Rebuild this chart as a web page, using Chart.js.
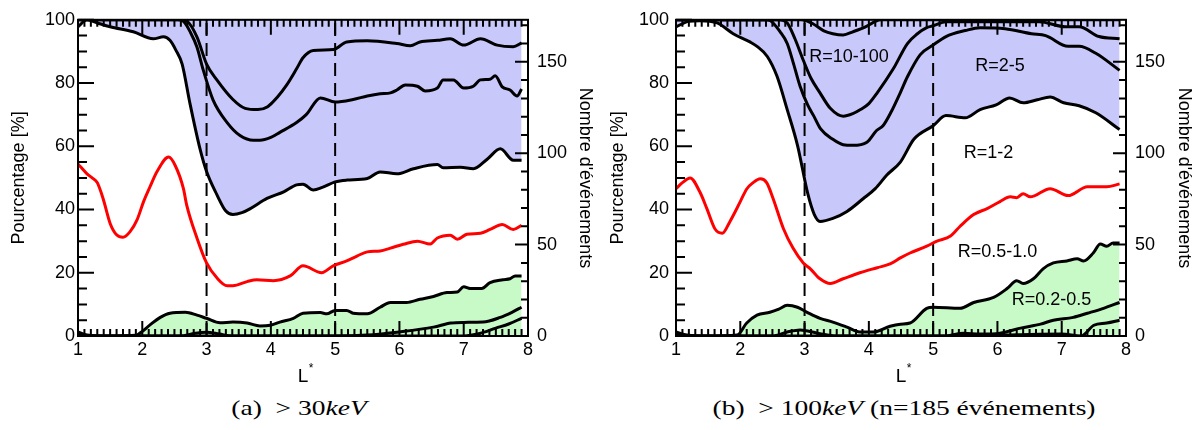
<!DOCTYPE html>
<html>
<head>
<meta charset="utf-8">
<script src="https://cdn.jsdelivr.net/npm/chart.js@4.4.1/dist/chart.umd.min.js"></script>
<style>
  body { margin: 0; background: #fff; width: 1195px; height: 430px; position: relative; overflow: hidden; }
  canvas { position: absolute; top: 0; }
  #chartA { left: 0; }
  #chartB { left: 600px; }
  .caption {
    position: absolute; top: 395px;
    font-family: "Liberation Serif", "DejaVu Serif", serif; font-size: 22px;
    white-space: nowrap; transform: translateX(-50%) scaleX(1.25);
  }
</style>
</head>
<body>
<canvas id="chartA" width="600" height="395"></canvas>
<canvas id="chartB" width="595" height="395"></canvas>
<div class="caption" style="left:299px">(a)&nbsp;&nbsp;&gt; 30<i>keV</i></div>
<div class="caption" style="left:904px">(b)&nbsp;&nbsp;&gt; 100<i>keV</i> (n=185 événements)</div>
<script>
// axes
const lRange = [1, 8];
const pctMax = 100;
const countMax = 173;          // right axis: number of events
const dashedAt = [3, 5];

// ---- panel (a) > 30 keV : [L*, %] ----
const aTop = [[1,100],[2.6,100],[2.7,99.5],[2.85,94.6],[3.0,86],[3.16,81],[3.41,74.8],[3.6,72],[3.8,71.6],[3.95,72.5],[4.1,75.5],[4.25,79.5],[4.4,84.5],[4.5,88],[4.66,90.3],[4.97,90.6],[5.18,93],[5.5,93.4],[5.96,92.5],[6.17,91.8],[6.32,93],[6.59,93.5],[6.79,94],[7.0,92],[7.26,94],[7.52,92],[7.77,91.5],[7.9,92.7]];
const aMid = [[1,100],[2.55,100],[2.64,99.5],[2.75,96],[2.85,91.4],[2.95,84],[3.1,74.7],[3.32,67.5],[3.52,63.4],[3.73,61.9],[3.83,61.9],[4.0,62.8],[4.14,64.4],[4.4,67.5],[4.55,70],[4.77,75.3],[5.0,74],[5.28,74.8],[5.5,75.9],[5.7,76.6],[5.86,76.9],[5.96,77.8],[6.09,79.4],[6.28,79],[6.4,77.5],[6.59,78.4],[6.68,81],[6.84,81],[7.0,78.4],[7.15,79],[7.26,81],[7.41,81.2],[7.49,82.3],[7.6,78.8],[7.72,77.8],[7.83,75.9],[7.9,78.1]];
const aLow = [[1,97.8],[1.14,100],[1.3,99],[1.5,97.8],[1.86,96.2],[2.17,94],[2.33,94.6],[2.43,93.5],[2.52,90.5],[2.62,86],[2.74,73.7],[2.9,59],[3.0,52],[3.16,44.7],[3.3,39.5],[3.41,38.4],[3.55,39],[3.68,40.3],[3.94,43.5],[4.2,45.6],[4.4,47.8],[4.5,48],[4.66,46.2],[4.8,47],[5.0,48.75],[5.18,49.3],[5.5,49.8],[5.7,51.9],[5.96,51.3],[6.22,52.9],[6.59,54.2],[6.68,53.2],[6.95,53.4],[7.15,52.9],[7.37,56],[7.57,59.2],[7.77,55.6],[7.9,55.6]];
const aRed = [[1,54.4],[1.14,51.3],[1.22,50],[1.3,48.5],[1.39,43.5],[1.5,35.6],[1.6,32],[1.7,31.2],[1.81,33],[1.92,36.8],[2.02,42.5],[2.12,47.2],[2.23,52],[2.41,56.6],[2.51,54],[2.64,46.6],[2.69,41.5],[2.85,31],[3.0,23.1],[3.16,18.4],[3.32,15.9],[3.41,15.9],[3.63,17.2],[3.78,17.8],[4.04,17.5],[4.3,19],[4.5,22.2],[4.79,20],[4.97,22.2],[5.18,23.75],[5.34,25.3],[5.5,26.6],[5.7,26.9],[5.86,27.8],[6.06,29],[6.28,30],[6.48,29.1],[6.59,31],[6.79,31.9],[6.9,30.6],[7.05,32.2],[7.26,32.5],[7.41,33.7],[7.6,35.3],[7.77,33.7],[7.9,35]];
const aGreen = [[1,1.3],[1.14,0.3],[1.5,0],[1.9,0.2],[1.97,1],[2.12,3.5],[2.28,5.9],[2.43,7.2],[2.67,7.5],[2.85,6.6],[3.0,5.6],[3.21,4.2],[3.41,4.4],[3.63,4.1],[3.83,3.2],[3.99,3.4],[4.14,4.4],[4.35,5.6],[4.5,7.2],[4.77,7.4],[4.87,7],[5.0,8.1],[5.18,8.1],[5.28,7.2],[5.5,7],[5.7,9.1],[5.86,10.6],[6.11,10.6],[6.32,11.6],[6.53,12.5],[6.74,13.75],[6.9,13.9],[7.0,15.6],[7.1,15],[7.28,15],[7.41,16.9],[7.61,17.8],[7.72,18.1],[7.8,19],[7.9,19]];
const aLow2 = [[1,0.8],[1.1,0],[2.6,0],[2.8,0.8],[3.0,1.2],[3.2,0.6],[3.4,0],[5.0,0],[5.5,0.3],[6.0,1.3],[6.53,2.8],[6.8,4.1],[7.0,4.3],[7.3,4.4],[7.57,5.9],[7.75,7.5],[7.9,9.1]];
const aLow3 = [[1,0],[7.0,0],[7.25,0.8],[7.5,2.5],[7.7,3.8],[7.9,5.6]];

// ---- panel (b) > 100 keV ----
const bTop = [[1,100],[2.95,100],[3.13,98.75],[3.3,96.5],[3.44,95.6],[3.6,95.2],[3.75,96.2],[3.97,98],[4.1,99.5],[4.2,100],[7.9,100]];
const bR2 = [[1,100],[2.6,100],[2.73,99],[2.85,94],[2.98,87.2],[3.1,81.5],[3.24,76.9],[3.4,72],[3.6,69.5],[3.75,70.3],[3.87,71.6],[4.0,73.5],[4.13,76.9],[4.38,84.5],[4.6,92.5],[4.75,95.5],[4.9,97.5],[5.0,98.1],[5.2,99.4],[6.65,99.4],[7.06,97.8],[7.27,97.8],[7.58,94.7],[7.9,94]];
const bR3 = [[1,100],[2.4,100],[2.47,99.7],[2.62,96.2],[2.73,92.5],[2.83,86],[2.93,79],[3.05,73],[3.14,69.7],[3.25,65.5],[3.44,62.2],[3.6,60.5],[3.75,60.3],[3.97,61.3],[4.12,65],[4.22,66.5],[4.35,71],[4.49,77],[4.6,82],[4.8,89],[5.0,92],[5.2,94.7],[5.5,96.6],[5.73,97.5],[6.12,97.2],[6.53,95.6],[6.75,95],[7.1,91.6],[7.27,91.6],[7.53,89.4],[7.9,84]];
const bLow = [[1,97.8],[1.2,99.5],[1.37,99.7],[1.64,99],[1.89,95.6],[2.15,93],[2.26,91.6],[2.42,88.4],[2.57,82.2],[2.73,71.6],[2.89,60.3],[3.05,45],[3.15,38.5],[3.24,36.25],[3.44,37.2],[3.66,39.4],[3.91,43.4],[4.1,46.6],[4.28,50.9],[4.49,55],[4.7,62.2],[5.0,66.5],[5.2,69.7],[5.5,69],[5.73,71.6],[5.98,73.1],[6.19,75.3],[6.4,73.75],[6.62,74.7],[6.82,75.6],[7.03,73.75],[7.27,72.8],[7.53,70.6],[7.9,65.3]];
const bRed = [[1,46.6],[1.1,48.5],[1.22,50],[1.37,45.6],[1.48,40.3],[1.61,33.75],[1.72,32.5],[1.84,36.25],[2.0,42.5],[2.1,46.5],[2.2,48.5],[2.31,49.7],[2.41,48.5],[2.51,43.5],[2.67,34],[2.82,27.8],[2.98,23.1],[3.09,21.25],[3.24,18.1],[3.4,16.6],[3.6,18.1],[3.86,20],[4.13,21.6],[4.33,22.8],[4.49,24.7],[4.64,26.25],[4.9,28.4],[5.06,30],[5.27,31.6],[5.42,34.7],[5.63,38.4],[5.84,40.3],[6.04,42.5],[6.2,44],[6.3,43.75],[6.4,45],[6.51,44],[6.82,46.6],[7.1,44.4],[7.4,47.2],[7.7,47.2],[7.9,48.1]];
const bGreen = [[1,1.3],[1.17,0.3],[1.5,0],[1.95,0.3],[2.1,4.1],[2.26,6.6],[2.46,7.5],[2.6,8.5],[2.73,9.7],[2.89,9.1],[3.04,7.5],[3.24,5.6],[3.44,4.4],[3.66,2.8],[3.86,1.25],[4.07,1.25],[4.33,3.1],[4.49,3.75],[4.64,4.1],[4.9,8.75],[5.0,9.1],[5.42,8.75],[5.63,10.6],[5.94,12.2],[6.15,15],[6.3,17.5],[6.4,16.6],[6.56,18.1],[6.71,21.25],[6.87,23.1],[7.08,23.75],[7.24,24.4],[7.34,23.75],[7.49,26.25],[7.6,29.1],[7.7,28.4],[7.8,29.4],[7.9,29.4]];
const bLow2 = [[1,0.8],[1.15,0],[2.5,0],[2.73,1.25],[2.93,1.9],[3.2,0.9],[3.5,0],[5.2,0],[5.47,0.9],[5.73,0.6],[6.04,0.9],[6.36,2.5],[6.67,3.75],[6.87,5],[7.18,5.9],[7.4,7.2],[7.65,8.75],[7.9,10.6]];
const bLow3 = [[1,0],[5.3,0],[5.6,0.5],[6.0,0.3],[6.5,0.5],[7.0,0.6],[7.3,0],[7.5,3.4],[7.7,4.1],[7.9,5]];

// region names written inside panel (b): text, L*, %
const bRegionLabels = [['R=10-100', 3.69, 88.3], ['R=2-5', 6.04, 85.5], ['R=1-2', 5.86, 57.8], ['R=0.5-1.0', 6.0, 26.6], ['R=0.2-0.5', 6.84, 11.25]];

const BLUE = 'rgb(200,200,250)';
const GREEN = 'rgb(200,250,200)';
const FONT = '"Liberation Sans", Arial, sans-serif';

function curve(points, color, fill, bg) {
  return {
    data: points.map(([x, y]) => ({ x, y })),
    borderColor: color,
    borderWidth: 3,
    pointRadius: 0,
    cubicInterpolationMode: 'monotone',
    fill: fill || false,
    backgroundColor: bg || 'transparent',
  };
}

function dashed(x) {
  return {
    data: [{ x, y: 0 }, { x, y: pctMax }],
    borderColor: '#000', borderWidth: 2, borderDash: [13, 7],
    pointRadius: 0, fill: false,
  };
}

// ticks inside the frame, frame itself, L* title and region labels
const panelDecor = {
  id: 'panelDecor',
  afterDraw(chart, args, opts) {
    const { ctx, chartArea: a } = chart;
    const { x, y, y2 } = chart.scales;
    ctx.save();
    ctx.strokeStyle = '#000';
    ctx.lineWidth = 2;
    ctx.beginPath();
    for (let i = lRange[0] * 10; i <= lRange[1] * 10; i++) {
      const px = x.getPixelForValue(i / 10);
      const len = i % 10 === 0 ? 15 : 7;
      ctx.moveTo(px, a.bottom); ctx.lineTo(px, a.bottom - len);
      ctx.moveTo(px, a.top); ctx.lineTo(px, a.top + len);
    }
    for (let v = 0; v <= pctMax; v += 5) {
      const py = y.getPixelForValue(v);
      ctx.moveTo(a.left, py); ctx.lineTo(a.left + (v % 20 === 0 ? 16 : 9), py);
    }
    for (let v = 0; v <= countMax; v += 10) {
      const py = y2.getPixelForValue(v);
      ctx.moveTo(a.right, py); ctx.lineTo(a.right - (v % 50 === 0 ? 13 : 7), py);
    }
    ctx.stroke();
    ctx.strokeRect(a.left, a.top, a.right - a.left, a.bottom - a.top);

    // L* under the x axis
    const cx = (a.left + a.right) / 2;
    ctx.fillStyle = '#000';
    ctx.textAlign = 'center';
    ctx.textBaseline = 'alphabetic';
    ctx.font = '19px ' + FONT;
    ctx.fillText('L', cx, 382);
    ctx.font = '12px ' + FONT;
    ctx.fillText('*', cx + 8, 372);

    ctx.font = '18px ' + FONT;
    ctx.textBaseline = 'middle';
    (opts.labels || []).forEach(([t, lx, ly]) => {
      ctx.fillText(t, x.getPixelForValue(lx), y.getPixelForValue(ly));
    });
    ctx.restore();
  }
};

function buildPanel(id, lines, geo, labels) {
  const tickFont = { family: FONT, size: 18 };
  const titleFont = { family: FONT, size: 18 };
  return new Chart(document.getElementById(id), {
    type: 'line',
    data: { datasets: lines.concat(dashedAt.map(dashed)) },
    options: {
      responsive: false,
      animation: false,
      devicePixelRatio: 1,
      layout: { padding: { top: 16, left: 0, right: 0, bottom: 0 } },
      plugins: {
        legend: { display: false },
        tooltip: { enabled: false },
        filler: { drawTime: 'beforeDatasetsDraw' },
        panelDecor: { labels },
      },
      scales: {
        x: {
          type: 'linear', min: lRange[0], max: lRange[1],
          grid: { display: false, drawTicks: false }, border: { display: false },
          ticks: { stepSize: 1, font: tickFont, color: '#000', padding: 3, maxRotation: 0, autoSkip: false },
          afterFit: s => { s.height = geo.bottomH; },
        },
        y: {
          position: 'left', min: 0, max: pctMax,
          grid: { display: false, drawTicks: false }, border: { display: false },
          ticks: { stepSize: 20, font: tickFont, color: '#000', padding: geo.leftPad },
          title: { display: true, text: 'Pourcentage [%]', font: titleFont, color: '#000', padding: { top: geo.leftTitlePad, bottom: 0 } },
          afterFit: s => { s.width = geo.leftW; },
        },
        y2: {
          position: 'right', min: 0, max: countMax,
          grid: { display: false, drawTicks: false }, border: { display: false },
          ticks: { stepSize: 50, includeBounds: false, font: tickFont, color: '#000', padding: 9,
                   callback: v => (v % 50 === 0 ? v : '') },
          title: { display: true, text: "Nombre d'événements", font: titleFont, color: '#000', padding: { top: geo.rightTitlePad, bottom: 0 } },
          afterFit: s => { s.width = geo.rightW; },
        },
      },
    },
    plugins: [panelDecor],
  });
}

buildPanel('chartA', [
  curve(aLow, '#000', 'end', BLUE),
  curve(aMid, '#000'),
  curve(aTop, '#000'),
  curve(aGreen, '#000', 'origin', GREEN),
  curve(aLow2, '#000'),
  curve(aLow3, '#000'),
  curve(aRed, '#ff0000'),
], { leftW: 78, rightW: 72, bottomH: 59, leftPad: 3, leftTitlePad: 8, rightTitlePad: 4 }, []);

buildPanel('chartB', [
  curve(bLow, '#000', 'end', BLUE),
  curve(bR3, '#000'),
  curve(bR2, '#000'),
  curve(bTop, '#000'),
  curve(bGreen, '#000', 'origin', GREEN),
  curve(bLow2, '#000'),
  curve(bLow3, '#000'),
  curve(bRed, '#ff0000'),
], { leftW: 76, rightW: 69, bottomH: 59, leftPad: 7, leftTitlePad: 7, rightTitlePad: 0 }, bRegionLabels);
</script>
</body>
</html>
